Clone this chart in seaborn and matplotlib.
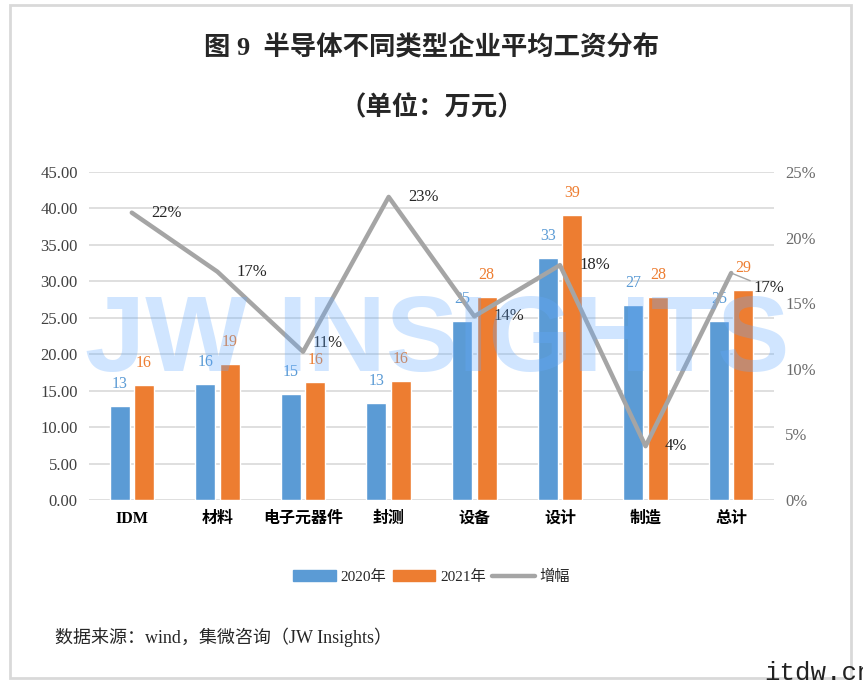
import numpy as np
import pandas as pd
import matplotlib
matplotlib.use("Agg")
import matplotlib.pyplot as plt
import matplotlib.patches as mpatches
import matplotlib.lines as mlines
from matplotlib.ticker import FuncFormatter
import seaborn as sns

# ---- data ----
categories = ["IDM", "材料", "电子元器件", "封测", "设备", "设计", "制造", "总计"]
wage_2020 = [12.9, 15.9, 14.6, 13.3, 24.6, 33.2, 26.7, 24.6]
wage_2021 = [15.8, 18.7, 16.2, 16.3, 27.8, 39.1, 27.8, 28.8]
growth = [0.219, 0.174, 0.113, 0.231, 0.140, 0.179, 0.041, 0.173]
years = ["2020年", "2021年"]

BLUE = "#5B9BD5"
ORANGE = "#ED7D31"
GRAY = "#A5A5A5"

sns.set_theme(style="white")
plt.rcParams["font.family"] = ["Liberation Serif", "Noto Sans CJK SC", "DejaVu Sans"]

df = pd.DataFrame({
    "类型": categories * 2,
    "工资": wage_2020 + wage_2021,
    "年份": [years[0]] * len(categories) + [years[1]] * len(categories),
})

fig = plt.figure(figsize=(8.63, 6.85), dpi=100)
ax = fig.add_axes([0.1031, 0.2701, 0.7938, 0.4788])

sns.barplot(data=df, x="类型", y="工资", hue="年份", palette=[BLUE, ORANGE],
            width=0.57, gap=0.18, saturation=1, legend=False, ax=ax, zorder=2)

for container, col in zip(ax.containers, [BLUE, ORANGE]):
    ax.bar_label(container, fmt="%.0f", color=col, padding=10, fontsize=11.5)

ax.set_ylim(0, 45)
ax.set_yticks(np.arange(0, 46, 5))
ax.yaxis.set_major_formatter(FuncFormatter(lambda v, _: f"{v:.2f}"))
ax.set_xlim(-0.5, len(categories) - 0.5)
ax.grid(axis="y", color="#D9D9D9", linewidth=1.2, zorder=0)
ax.set_axisbelow(True)
for s in ax.spines.values():
    s.set_visible(False)
ax.set_xlabel("")
ax.set_ylabel("")
ax.tick_params(axis="y", length=0, labelsize=12, labelcolor="#404040", pad=8)
ax.tick_params(axis="x", length=0, pad=8)
for lbl in ax.get_xticklabels():
    lbl.set_fontsize(11.5)
    lbl.set_fontweight("bold")
    lbl.set_color("black")

# growth line on the right axis
ax2 = ax.twinx()
x_pos = np.arange(len(categories))
sns.lineplot(x=x_pos, y=growth, ax=ax2, color=GRAY, linewidth=3.2, legend=False)
ax2.set_ylim(0, 0.25)
ax2.set_yticks(np.arange(0, 0.26, 0.05))
ax2.yaxis.set_major_formatter(FuncFormatter(lambda v, _: f"{v * 100:.0f}%"))
ax2.tick_params(axis="y", length=0, labelsize=12, labelcolor="#6b6b6b", pad=8)
ax2.set_ylabel("")
for s in ax2.spines.values():
    s.set_visible(False)

offsets = [(14, 0), (14, 0), (7, 6), (14, 0), (14, 0), (14, 0), (14, 0), (16, -11)]
for i, (g, off) in enumerate(zip(growth, offsets)):
    kw = {}
    if i == len(growth) - 1:
        kw["arrowprops"] = dict(arrowstyle="-", color=GRAY, lw=1, shrinkA=0, shrinkB=0)
    ax2.annotate(f"{g * 100:.0f}%", (x_pos[i], g), xytext=off, textcoords="offset points",
                 ha="left", va="center", fontsize=12, color="#262626", **kw)

# watermark
fig.text(0.507, 0.50, "JW INSIGHTS", ha="center", va="center", fontsize=78,
         fontweight="bold", family=["Liberation Sans Narrow", "Liberation Sans"],
         color="#64AAFF", alpha=0.3, zorder=10)

# titles
fig.text(0.5, 0.93, "图 9  半导体不同类型企业平均工资分布", ha="center", va="center",
         fontsize=19, fontweight="bold")
fig.text(0.5, 0.843, "（单位：万元）", ha="center", va="center",
         fontsize=19, fontweight="bold")

# legend
handles = [
    mpatches.Patch(color=BLUE, label=years[0]),
    mpatches.Patch(color=ORANGE, label=years[1]),
    mlines.Line2D([], [], color=GRAY, linewidth=3.2, label="增幅"),
]
fig.legend(handles=handles, loc="center", bbox_to_anchor=(0.5, 0.158), ncol=3,
           frameon=False, fontsize=11, handlelength=2.8, handleheight=0.7,
           handletextpad=0.3, columnspacing=0.4)

# source
fig.text(0.064, 0.07, "数据来源：wind，集微咨询（JW Insights）", ha="left", va="center",
         fontsize=13)

# frame
fig.patches.append(mpatches.Rectangle((10 / 863, 1 - 678 / 685), 841 / 863, 673 / 685,
                                      transform=fig.transFigure, fill=False,
                                      edgecolor="#D9D9D9", linewidth=2))
fig.text(0.886, 0.0, "itdw.cn", ha="left", va="bottom", fontsize=18.5,
         family="Liberation Mono", color="#222222")

fig.savefig("out.png", dpi=100)
